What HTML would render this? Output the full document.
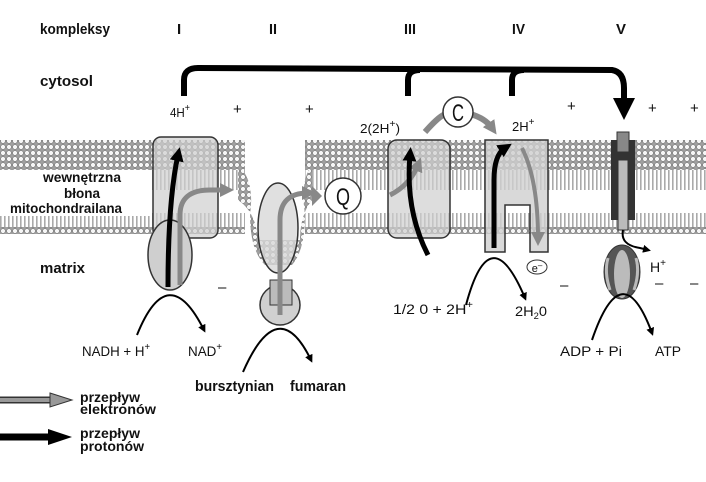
<!DOCTYPE html>
<html><head><meta charset="utf-8"><style>
html,body{margin:0;padding:0;background:#fff;}
svg{display:block;}
text{font-family:"Liberation Sans",sans-serif;fill:#111;}
.b{font-weight:bold;}
</style></head><body>
<svg width="706" height="482" viewBox="0 0 706 482" xmlns="http://www.w3.org/2000/svg">
<defs>
<pattern id="heads" width="6" height="6" patternUnits="userSpaceOnUse">
<rect width="6" height="6" fill="#a0a0a0"/>
<circle cx="3" cy="3" r="2.4" fill="#f6f6f6" stroke="#777" stroke-width="0.6"/>
</pattern>
<pattern id="tails" width="4" height="10" patternUnits="userSpaceOnUse">
<rect width="4" height="10" fill="#fff"/>
<rect x="0" width="1.6" height="10" fill="#aaa"/>
</pattern>
<marker id="ak" markerWidth="8" markerHeight="8" refX="5" refY="4" orient="auto" markerUnits="userSpaceOnUse"><path d="M0,0 L8,4 L0,8 Z" fill="#000"/></marker>
<marker id="akb" markerWidth="22" markerHeight="22" refX="10" refY="11" orient="auto" markerUnits="userSpaceOnUse"><path d="M0,0 L22,11 L0,22 Z" fill="#000"/></marker>
<marker id="ag" markerWidth="14" markerHeight="14" refX="6" refY="7" orient="auto" markerUnits="userSpaceOnUse"><path d="M0,0 L14,7 L0,14 Z" fill="#888"/></marker>
<marker id="ab" markerWidth="14" markerHeight="14" refX="6" refY="7" orient="auto" markerUnits="userSpaceOnUse"><path d="M0,0 L14,7 L0,14 Z" fill="#000"/></marker>
</defs>

<!-- membrane -->
<rect x="0" y="140" width="245" height="30" fill="url(#heads)"/>
<rect x="305" y="140" width="401" height="30" fill="url(#heads)"/>
<rect x="0" y="170" width="245" height="20" fill="url(#tails)"/>
<rect x="305" y="170" width="401" height="20" fill="url(#tails)"/>
<rect x="0" y="213" width="245" height="15" fill="url(#tails)"/>
<rect x="305" y="213" width="401" height="15" fill="url(#tails)"/>
<rect x="0" y="227" width="245" height="7" fill="url(#heads)"/>
<rect x="305" y="227" width="401" height="7" fill="url(#heads)"/>
<path d="M238,165 Q255,180 250,215 Q250,250 265,265 L292,265 Q305,250 305,215 Q300,180 312,165 L312,200 Q300,215 300,240 L258,240 Q256,212 238,200Z" fill="url(#heads)"/>

<rect x="0" y="170" width="150" height="46" fill="#fff"/>
<text x="82" y="182" class="b" font-size="14" text-anchor="middle" textLength="78" lengthAdjust="spacingAndGlyphs">wewnętrzna</text>
<text x="82" y="198" class="b" font-size="14" text-anchor="middle" textLength="36" lengthAdjust="spacingAndGlyphs">błona</text>
<text x="66" y="213" class="b" font-size="14" text-anchor="middle" textLength="112" lengthAdjust="spacingAndGlyphs">mitochondrailana</text>

<!-- top labels -->
<text x="40" y="34" class="b" font-size="15" textLength="70" lengthAdjust="spacingAndGlyphs">kompleksy</text>
<text x="177" y="34" class="b" font-size="15">I</text>
<text x="269" y="34" class="b" font-size="15" textLength="8" lengthAdjust="spacingAndGlyphs">II</text>
<text x="404" y="34" class="b" font-size="15" textLength="12" lengthAdjust="spacingAndGlyphs">III</text>
<text x="512" y="34" class="b" font-size="15" textLength="13" lengthAdjust="spacingAndGlyphs">IV</text>
<text x="616" y="34" class="b" font-size="15" textLength="10" lengthAdjust="spacingAndGlyphs">V</text>
<text x="40" y="86" class="b" font-size="15" textLength="53" lengthAdjust="spacingAndGlyphs">cytosol</text>

<!-- bracket -->
<path d="M184,96 L184,80 Q184,68 198,68 L612,70 Q624,72 624,88 L624,108" fill="none" stroke="#000" stroke-width="6" marker-end="url(#akb)"/>
<path d="M408,96 L408,80 Q408,70 420,70" fill="none" stroke="#000" stroke-width="6"/>
<path d="M512,96 L512,80 Q512,70 524,70" fill="none" stroke="#000" stroke-width="6"/>

<text x="170" y="117" font-size="13" textLength="20" lengthAdjust="spacingAndGlyphs">4H<tspan dy="-6" font-size="10">+</tspan></text>
<text x="233" y="114" font-size="15">+</text>
<text x="305" y="114" font-size="15">+</text>
<text x="360" y="133" font-size="13" textLength="40" lengthAdjust="spacingAndGlyphs">2(2H<tspan dy="-6" font-size="10">+</tspan><tspan dy="6">)</tspan></text>
<text x="512" y="131" font-size="13">2H<tspan dy="-6" font-size="10">+</tspan></text>
<text x="567" y="111" font-size="15">+</text>
<text x="648" y="113" font-size="15">+</text>
<text x="690" y="113" font-size="15">+</text>

<path d="M425,132 Q440,115 446,114" fill="none" stroke="#888" stroke-width="6"/>
<path d="M470,114 Q485,118 492,128" fill="none" stroke="#888" stroke-width="6" marker-end="url(#ag)"/>
<circle cx="458" cy="112" r="15" fill="#fff" stroke="#333" stroke-width="1.5"/>
<text x="458" y="121" font-size="24" text-anchor="middle" textLength="12" lengthAdjust="spacingAndGlyphs">C</text>

<!-- complex I -->
<rect x="153" y="137" width="65" height="101" rx="8" fill="#cfcfcf" fill-opacity="0.7" stroke="#333" stroke-width="1.5"/>
<ellipse cx="170" cy="255" rx="22" ry="35" fill="#cfcfcf" stroke="#333" stroke-width="1.5"/>
<path d="M180,285 L180,215 Q180,190 210,190 L226,190" fill="none" stroke="#888" stroke-width="5" marker-end="url(#ag)"/>
<path d="M168,287 Q168,200 178,155" fill="none" stroke="#000" stroke-width="5" marker-end="url(#ab)"/>

<!-- complex II -->
<ellipse cx="278" cy="228" rx="20" ry="45" fill="#d8d8d8" fill-opacity="0.8" stroke="#333" stroke-width="1.5"/>
<circle cx="280" cy="305" r="20" fill="#d0d0d0" stroke="#333" stroke-width="1.5"/>
<rect x="270" y="280" width="22" height="25" fill="#bbb" stroke="#333" stroke-width="1"/>
<path d="M280,315 L280,220 Q280,193 308,193" fill="none" stroke="#888" stroke-width="5" marker-end="url(#ag)"/>
<path d="M312,186 L322,196 L312,206Z" fill="#888"/>
<circle cx="343" cy="196" r="18" fill="#fff" stroke="#333" stroke-width="1.5"/>
<text x="343" y="205" font-size="24" text-anchor="middle" textLength="14" lengthAdjust="spacingAndGlyphs">Q</text>

<!-- complex III -->
<rect x="388" y="140" width="62" height="98" rx="9" fill="#cfcfcf" fill-opacity="0.7" stroke="#333" stroke-width="1.5"/>
<path d="M390,195 Q410,185 418,165" fill="none" stroke="#888" stroke-width="5" marker-end="url(#ag)"/>
<path d="M428,255 Q405,210 410,155" fill="none" stroke="#000" stroke-width="5" marker-end="url(#ab)"/>

<!-- complex IV -->
<path d="M485,140 L548,140 L548,252 L530,252 L530,205 L505,205 L505,252 L485,252Z" fill="#cfcfcf" fill-opacity="0.8" stroke="#333" stroke-width="1.5"/>
<path d="M494,248 L494,180 Q494,155 505,148" fill="none" stroke="#000" stroke-width="5" marker-end="url(#ab)"/>
<path d="M522,148 Q538,180 538,238" fill="none" stroke="#888" stroke-width="4" marker-end="url(#ag)"/>
<ellipse cx="537" cy="267" rx="10" ry="7" fill="#fff" stroke="#333"/>
<text x="537" y="272" font-size="11" text-anchor="middle">e<tspan dy="-4" font-size="8">–</tspan></text>

<!-- complex V -->
<rect x="611" y="140" width="24" height="80" fill="#333"/>
<rect x="617" y="132" width="12" height="20" fill="#888" stroke="#333"/>
<rect x="618" y="160" width="10" height="70" fill="#bbb" stroke="#333"/>
<path d="M623,230 Q620,245 640,248 L648,250" fill="none" stroke="#000" stroke-width="2" marker-end="url(#ak)"/>
<ellipse cx="622" cy="272" rx="18" ry="27" fill="#555" stroke="#333"/>
<ellipse cx="622" cy="274" rx="8" ry="24" fill="#bbb"/>
<path d="M608,258 Q604,272 610,290" stroke="#bbb" stroke-width="3" fill="none"/>
<path d="M636,258 Q640,272 634,290" stroke="#bbb" stroke-width="3" fill="none"/>
<text x="650" y="272" font-size="14" textLength="16" lengthAdjust="spacingAndGlyphs">H<tspan dy="-6" font-size="10">+</tspan></text>

<text x="218" y="292" font-size="15">–</text>
<text x="560" y="290" font-size="15">–</text>
<text x="655" y="288" font-size="15">–</text>
<text x="690" y="288" font-size="15">–</text>
<text x="40" y="273" class="b" font-size="15" textLength="45" lengthAdjust="spacingAndGlyphs">matrix</text>

<!-- reaction arcs -->
<path d="M137,335 Q168,258 204,330" fill="none" stroke="#000" stroke-width="2" marker-end="url(#ak)"/>
<path d="M243,372 Q278,292 311,360" fill="none" stroke="#000" stroke-width="2" marker-end="url(#ak)"/>
<path d="M466,305 Q490,215 525,298" fill="none" stroke="#000" stroke-width="2" marker-end="url(#ak)"/>
<path d="M592,340 Q622,252 652,333" fill="none" stroke="#000" stroke-width="2" marker-end="url(#ak)"/>

<text x="82" y="356" font-size="14" textLength="68" lengthAdjust="spacingAndGlyphs">NADH + H<tspan dy="-6" font-size="10">+</tspan></text>
<text x="188" y="356" font-size="14" textLength="34" lengthAdjust="spacingAndGlyphs">NAD<tspan dy="-6" font-size="10">+</tspan></text>
<text x="195" y="391" class="b" font-size="15" textLength="79" lengthAdjust="spacingAndGlyphs">bursztynian</text>
<text x="290" y="391" class="b" font-size="15" textLength="56" lengthAdjust="spacingAndGlyphs">fumaran</text>
<text x="393" y="314" font-size="14" textLength="80" lengthAdjust="spacingAndGlyphs">1/2 0 + 2H<tspan dy="-6" font-size="10">+</tspan></text>
<text x="515" y="316" font-size="14" textLength="32" lengthAdjust="spacingAndGlyphs">2H<tspan dy="3" font-size="9">2</tspan><tspan dy="-3">0</tspan></text>
<text x="560" y="356" font-size="14" textLength="62" lengthAdjust="spacingAndGlyphs">ADP  + Pi</text>
<text x="655" y="356" font-size="14" textLength="26" lengthAdjust="spacingAndGlyphs">ATP</text>

<!-- legend -->
<path d="M0,400 L55,400" stroke="#333" stroke-width="7"/>
<path d="M0,400 L55,400" stroke="#999" stroke-width="4"/>
<path d="M50,393 L72,400 L50,407Z" fill="#999" stroke="#333"/>
<text x="80" y="402" class="b" font-size="14" textLength="60" lengthAdjust="spacingAndGlyphs">przepływ</text>
<text x="80" y="414" class="b" font-size="14" textLength="76" lengthAdjust="spacingAndGlyphs">elektronów</text>
<path d="M0,437 L55,437" stroke="#000" stroke-width="7"/>
<path d="M48,429 L72,437 L48,445Z" fill="#000"/>
<text x="80" y="438" class="b" font-size="14" textLength="60" lengthAdjust="spacingAndGlyphs">przepływ</text>
<text x="80" y="451" class="b" font-size="14" textLength="64" lengthAdjust="spacingAndGlyphs">protonów</text>
</svg>
</body></html>
